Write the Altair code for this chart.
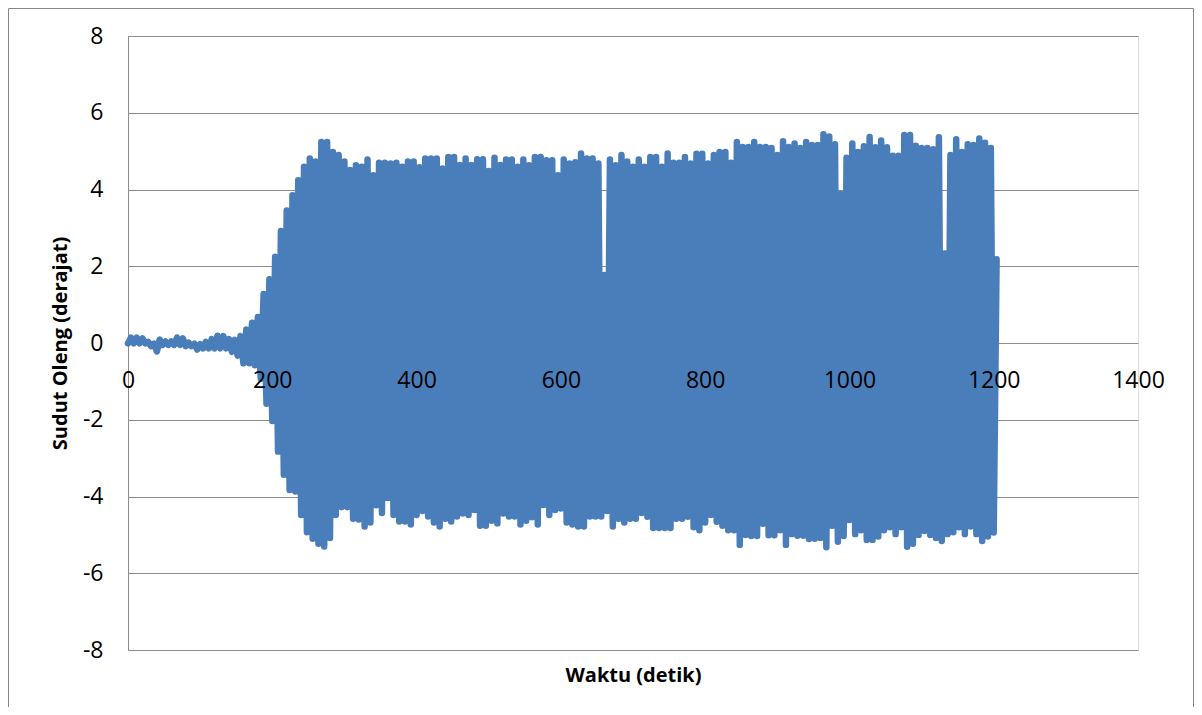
import altair as alt
import pandas as pd

# Roll angle record: alternating peaks (crests) and troughs
crest_time = list(range(4, 1205, 8))      # seconds
trough_time = list(range(0, 1201, 8))     # seconds

crest_deg = [
    0.14, 0.14, 0.12, 0.03, -0.02, 0.09, 0.04, 0.04, 0.14, 0.12,
    0.01, -0.02, -0.03, 0.03, 0.1, 0.19, 0.18, 0.1, 0.08, 0.18,
    0.35, 0.53, 0.68, 1.28, 1.66, 2.25, 2.92, 3.45, 3.85, 4.24,
    4.59, 4.81, 4.73, 5.24, 5.24, 4.98, 4.9, 4.73, 4.51, 4.63,
    4.59, 4.78, 4.37, 4.7, 4.7, 4.68, 4.7, 4.59, 4.73, 4.73,
    4.58, 4.81, 4.81, 4.81, 4.55, 4.85, 4.85, 4.64, 4.81, 4.64,
    4.79, 4.79, 4.48, 4.83, 4.64, 4.78, 4.78, 4.59, 4.78, 4.63,
    4.85, 4.85, 4.76, 4.76, 4.37, 4.78, 4.68, 4.71, 4.94, 4.81,
    4.81, 4.68, 1.77, 4.78, 4.63, 4.9, 4.73, 4.59, 4.78, 4.59,
    4.85, 4.85, 4.59, 4.94, 4.7, 4.7, 4.85, 4.68, 4.93, 4.93,
    4.68, 4.9, 4.98, 4.98, 4.7, 5.24, 5.11, 5.11, 5.24, 5.11,
    5.11, 5.08, 4.9, 5.26, 5.11, 5.2, 5.08, 5.24, 5.16, 5.16,
    5.44, 5.38, 5.18, 3.88, 4.83, 5.2, 4.98, 5.13, 5.37, 5.1,
    5.28, 5.1, 4.88, 4.88, 5.42, 5.42, 5.14, 5.08, 5.08, 5.05,
    5.36, 2.33, 4.9, 5.31, 4.98, 5.18, 5.16, 5.33, 5.22, 5.08,
    2.18,
]

trough_deg = [
    -0.01, -0.01, -0.01, -0.01, -0.08, -0.22, -0.05, -0.05, -0.05, -0.05,
    -0.08, -0.08, -0.17, -0.14, -0.14, -0.14, -0.14, -0.14, -0.23, -0.33,
    -0.53, -0.53, -0.58, -0.93, -1.58, -2.03, -2.83, -3.43, -3.83, -3.87,
    -4.48, -4.93, -5.1, -5.23, -5.3, -5.08, -4.48, -4.28, -4.28, -4.58,
    -4.6, -4.78, -4.68, -4.23, -4.43, -4.04, -4.48, -4.65, -4.65, -4.73,
    -4.48, -4.38, -4.52, -4.68, -4.78, -4.58, -4.65, -4.52, -4.44, -4.48,
    -4.35, -4.76, -4.76, -4.63, -4.7, -4.44, -4.52, -4.52, -4.73, -4.63,
    -4.54, -4.73, -4.22, -4.48, -4.35, -4.31, -4.68, -4.73, -4.78, -4.78,
    -4.52, -4.52, -4.52, -4.38, -4.78, -4.58, -4.68, -4.58, -4.58, -4.43,
    -4.53, -4.82, -4.82, -4.82, -4.82, -4.58, -4.58, -4.53, -4.8, -4.88,
    -4.68, -4.48, -4.66, -4.76, -4.88, -4.88, -5.26, -5.0, -5.03, -5.03,
    -4.71, -5.01, -5.01, -4.88, -5.26, -4.98, -5.02, -5.02, -5.11, -5.1,
    -5.08, -5.32, -4.76, -5.18, -5.03, -4.61, -4.98, -4.88, -5.13, -5.13,
    -5.04, -4.88, -4.8, -4.98, -4.8, -5.31, -5.23, -5.0, -4.9, -5.0,
    -5.08, -5.16, -4.98, -4.93, -4.8, -4.98, -4.78, -4.98, -5.16, -5.04,
    -4.94,
]

x_ticks = [0, 200, 400, 600, 800, 1000, 1200, 1400]
y_ticks = [-8, -6, -4, -2, 0, 2, 4, 6, 8]

df = pd.DataFrame({
    "t": trough_time + crest_time,
    "roll": trough_deg + crest_deg,
}).sort_values("t").reset_index(drop=True)

FONT = "Open Sans"
GRID = "#8c8c8c"

x_enc = alt.X(
    "t:Q",
    scale=alt.Scale(domain=[0, 1400], nice=False, zero=False),
    axis=alt.Axis(
        values=x_ticks, format="d", title="Waktu (detik)", offset=-307, grid=False,
        ticks=False, tickSize=0, domain=False, zindex=1,
        labelFont=FONT, labelFontSize=23, labelColor="#000000", labelPadding=26,
        labelAngle=0, labelFlush=False, labelOverlap=False,
        titleFont=FONT, titleFontSize=20, titleFontWeight="bold", titleColor="#000000",
        titleBaseline="middle", titleY=332,
    ),
)
y_enc = alt.Y(
    "roll:Q",
    scale=alt.Scale(domain=[-8, 8], nice=False, zero=False),
    axis=alt.Axis(
        values=y_ticks, title="Sudut Oleng (derajat)", grid=True, gridColor=GRID,
        gridWidth=1, ticks=False, tickSize=0, domain=True, domainColor=GRID, domainWidth=1,
        labelFont=FONT, labelFontSize=23, labelColor="#000000", labelPadding=25,
        labelExpr="'' + datum.value", labelFlush=False, labelOverlap=False,
        titleFont=FONT, titleFontSize=20, titleFontWeight="bold", titleColor="#000000",
        titleBaseline="middle", titleX=-68,
    ),
)

line = alt.Chart(df).mark_line(
    color="#4A7EBB", strokeWidth=6.5, strokeJoin="round", strokeCap="round"
).encode(x=x_enc, y=y_enc)

frame = alt.Chart(pd.DataFrame({"k": [0]})).mark_rect(
    filled=False, stroke="#868686", strokeWidth=1
).encode(
    x=alt.value(-119.5), x2=alt.value(1065.5),
    y=alt.value(-27.5), y2=alt.value(690),
)

chart = alt.layer(frame, line).properties(
    width=1010, height=614,
    padding={"left": 120, "top": 28, "right": 56, "bottom": 57},
    autosize=alt.AutoSizeParams(type="none"),
).configure_view(stroke=None).configure(background="white")

chart.save("out.html", embed_options={"renderer": "svg", "actions": False})
